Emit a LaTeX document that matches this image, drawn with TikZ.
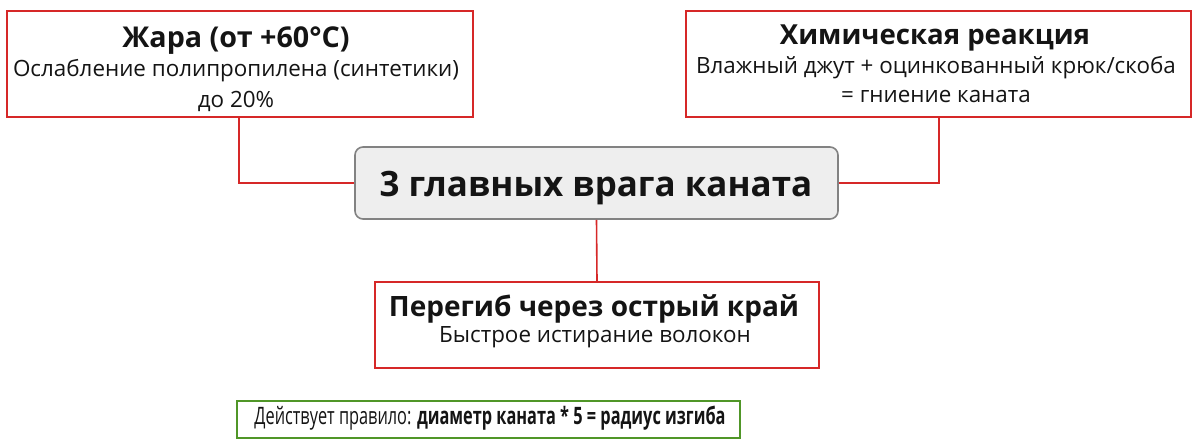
\documentclass[tikz,border=0pt]{standalone}
\usepackage{fontspec}
\setmainfont{Open Sans}
\usetikzlibrary{positioning}
\definecolor{redb}{RGB}{214,40,40}
\definecolor{greenb}{RGB}{80,150,40}
\definecolor{grayfill}{RGB}{238,238,238}
\definecolor{grayb}{RGB}{130,130,130}
\definecolor{txt}{RGB}{20,20,20}
\tikzset{
  redbox/.style={draw=redb, line width=1.5pt, fill=white, inner sep=0pt},
  centerbox/.style={draw=grayb, line width=1.2pt, fill=grayfill, rounded corners=6pt, inner sep=0pt},
  greenbox/.style={draw=greenb, line width=1.5pt, fill=white, inner sep=0pt},
  link/.style={draw=redb, line width=1.2pt},
  ttl/.style={font=\bfseries\fontsize{21}{24}\selectfont, text=txt, anchor=base, inner sep=0pt},
  sub/.style={font=\fontsize{16.8}{20}\selectfont, text=txt, anchor=base, inner sep=0pt},
}
\begin{document}
\begin{tikzpicture}[x=0.75pt,y=-0.75pt]
\useasboundingbox (0,0) rectangle (1200,447);
% boxes
\node[redbox, minimum width=466*0.75pt, minimum height=106*0.75pt] (heat) at (240,64) {};
\node[redbox, minimum width=505*0.75pt, minimum height=106*0.75pt] (chem) at (938.5,64) {};
\node[centerbox, minimum width=483*0.75pt, minimum height=72*0.75pt] (main) at (596.5,183) {};
\node[redbox, minimum width=444*0.75pt, minimum height=86*0.75pt] (bend) at (597,325) {};
\node[greenbox, minimum width=503*0.75pt, minimum height=37*0.75pt] (rule) at (488.5,419.5) {};
% texts
\node[ttl, font=\bfseries\fontsize{21.5}{24}\selectfont] (heatT) at (236,47) {Жара (от +60°C)};
\node[sub] (heatS1) at (236,76) {Ослабление полипропилена (синтетики)};
\node[sub] (heatS2) at (236,107) {до 20\%};
\node[ttl, font=\bfseries\fontsize{20.7}{24}\selectfont] (chemT) at (935,44) {Химическая реакция};
\node[sub] (chemS1) at (936,73) {Влажный джут + оцинкованный крюк/скоба};
\node[sub] (chemS2) at (936,102) {= гниение каната};
\node[ttl, font=\bfseries\fontsize{26.2}{30}\selectfont] (mainT) at (596,196) {3 главных врага каната};
\node[ttl] (bendT) at (594,316) {Перегиб через острый край};
\node[sub] (bendS) at (595,342) {Быстрое истирание волокон};
\node[text=txt, font=\fontsize{18}{20}\selectfont, anchor=base, inner sep=0pt] (ruleT) at (490,424) {\scalebox{0.68}[1]{Действует правило: \textbf{диаметр каната * 5 = радиус изгиба}}};
% connectors
\coordinate (lc) at (239,183);
\coordinate (rc) at (939,183);
\draw[link] (heat.south -| lc) -- (lc) -- (main.west);
\draw[link] (chem.south -| rc) -- (rc) -- (main.east);
\draw[link] (main.south) -- (bend.north);
\end{tikzpicture}
\end{document}
